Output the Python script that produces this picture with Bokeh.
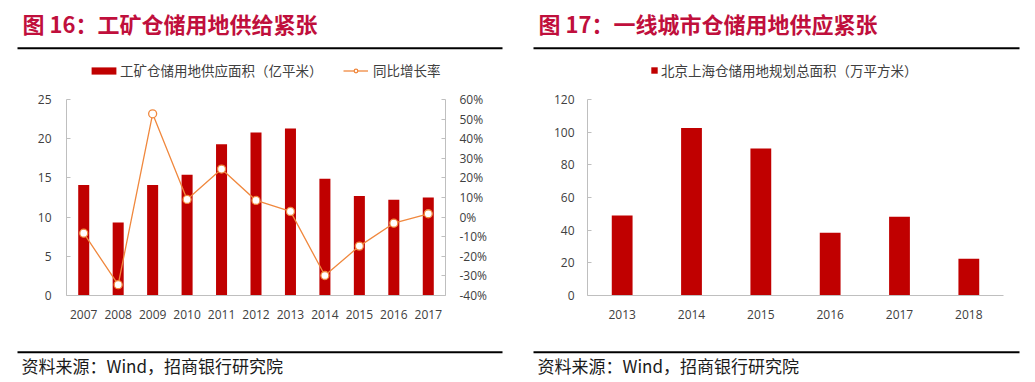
from bokeh.plotting import figure
from bokeh.models import (Range1d, FactorRange, LinearAxis, FixedTicker, PrintfTickFormatter,
                          Label, BoxAnnotation, Legend, LegendItem)
from bokeh.layouts import row, column
from bokeh.embed import file_html
from bokeh.resources import INLINE

# ---------------- data ----------------
years_a = ["2007", "2008", "2009", "2010", "2011", "2012", "2013", "2014", "2015", "2016", "2017"]
supply_area = [14.1, 9.3, 14.1, 15.4, 19.3, 20.8, 21.3, 14.9, 12.7, 12.2, 12.5]   # 亿平米
yoy_growth = [-8.2, -34.5, 52.7, 9.0, 24.5, 8.5, 2.9, -29.8, -14.8, -3.1, 1.7]    # %

years_b = ["2013", "2014", "2015", "2016", "2017", "2018"]
plan_area = [49, 102.6, 90, 38.4, 48.2, 22.5]   # 万平方米

title_a = "图 16：工矿仓储用地供给紧张"
title_b = "图 17：一线城市仓储用地供应紧张"
legend_bar_a = "工矿仓储用地供应面积（亿平米）"
legend_line_a = "同比增长率"
legend_bar_b = "北京上海仓储用地规划总面积（万平方米）"
source_text = "资料来源：Wind，招商银行研究院"

BAR = "#C00000"
LINE = "#F0883E"
TITLE_RED = "#C00F3C"
AXIS_GRAY = "#BFBFBF"
TXT = "#404040"
CJK = "Noto Sans CJK SC"
NUM = "Open Sans"

HEAD_H = 90
FOOT_H = 52


def blank(width, height):
    p = figure(width=width, height=height, x_range=Range1d(0, width), y_range=Range1d(0, height),
               min_border=0, output_backend="svg", toolbar_location=None, frame_align=False)
    p.axis.visible = False
    p.grid.visible = False
    p.outline_line_color = None
    return p


def rule(p, x0, x1, yc):
    p.add_layout(BoxAnnotation(left=x0, right=x1, bottom=yc - 1, top=yc + 1,
                               left_units="screen", right_units="screen",
                               bottom_units="screen", top_units="screen",
                               fill_color="black", fill_alpha=1, line_color=None))


def header(width, title, x_title, x0, x1):
    p = blank(width, HEAD_H)
    p.add_layout(Label(x=x_title, y=HEAD_H - 22.5, x_units="screen", y_units="screen", text=title,
                       text_font=CJK, text_font_size="22px", text_font_style="bold",
                       text_color=TITLE_RED, text_baseline="middle", text_align="left"))
    rule(p, x0, x1, HEAD_H - 47.7)
    return p


def footer(width, x_src, x0, x1):
    p = blank(width, FOOT_H)
    rule(p, x0, x1, FOOT_H - 26.7)
    p.add_layout(Label(x=x_src, y=FOOT_H - 40, x_units="screen", y_units="screen", text=source_text,
                       text_font=CJK, text_font_size="17px", text_color="#1a1a1a",
                       text_baseline="middle", text_align="left"))
    return p


def make_legend(items, vx, vy, gw, gh, standoff):
    return Legend(items=items, location=(vx, vy), orientation="horizontal",
                  glyph_width=gw, glyph_height=gh, label_standoff=standoff,
                  label_text_font=CJK, label_text_font_size="13.5px", label_text_color=TXT,
                  padding=0, margin=0, spacing=0, border_line_color=None,
                  background_fill_alpha=0, label_height=gh, inactive_fill_alpha=0)


def style_axis(ax, vertical=True):
    ax.axis_line_color = AXIS_GRAY
    ax.major_tick_line_color = AXIS_GRAY if vertical else None
    ax.major_tick_in = 4
    ax.major_tick_out = 0
    ax.minor_tick_line_color = None
    ax.major_label_text_font = NUM
    ax.major_label_text_font_size = "12px"
    ax.major_label_text_color = TXT


# ---------------- left panel ----------------
WA = 518
ha = header(WA, title_a, 22, 17, 502)
idx_a = list(range(len(years_a)))
# hidden legend proxies (same data, not drawn) so the legend can sit in the header area
leg_bar = ha.vbar(x=idx_a, top=supply_area, width=0.32, fill_color=BAR, line_color=None, visible=False)
leg_line = ha.line(x=idx_a, y=yoy_growth, line_color=LINE, line_width=1.3, visible=False)
leg_pt = ha.scatter(x=idx_a, y=yoy_growth, size=8, marker="circle", fill_color="white",
                    line_color=LINE, line_width=1.3, visible=False)
ha.add_layout(make_legend([LegendItem(label=legend_bar_a, renderers=[leg_bar])], 88, 10, 31, 9, 1))
ha.add_layout(make_legend([LegendItem(label=legend_line_a, renderers=[leg_line, leg_pt])], 343, 10, 25, 9, 5))

pa = figure(x_range=FactorRange(*years_a, range_padding=0), y_range=Range1d(0, 25),
            frame_width=379, frame_height=196, frame_align=False,
            min_border_left=66, min_border_right=WA - 66 - 379, min_border_top=9, min_border_bottom=30,
            output_backend="svg", toolbar_location=None)
pa.extra_y_ranges = {"pct": Range1d(-40, 60)}
pa.outline_line_color = None
pa.grid.visible = False

pa.vbar(x=years_a, top=supply_area, width=0.32, fill_color=BAR, line_color=None)
pa.line(x=years_a, y=yoy_growth, y_range_name="pct", line_color=LINE, line_width=1.3)
pa.scatter(x=years_a, y=yoy_growth, y_range_name="pct", size=8, marker="circle",
           fill_color="white", line_color=LINE, line_width=1.3)

pa.yaxis.ticker = FixedTicker(ticks=[0, 5, 10, 15, 20, 25])
style_axis(pa.yaxis[0])
pa.yaxis.major_label_standoff = 15
style_axis(pa.xaxis[0], vertical=False)
pa.xaxis.major_label_standoff = 14

right_ax = LinearAxis(y_range_name="pct", ticker=FixedTicker(ticks=list(range(-40, 61, 10))),
                      formatter=PrintfTickFormatter(format="%d%%"))
style_axis(right_ax)
right_ax.major_label_standoff = 14
pa.add_layout(right_ax, "right")

fa = footer(WA, 21, 17, 502)

# ---------------- right panel ----------------
WB = 509
hb = header(WB, title_b, 20, 15, 501)
idx_b = list(range(len(years_b)))
leg_bar_b = hb.vbar(x=idx_b, top=plan_area, width=0.3, fill_color=BAR, line_color=None, visible=False)
hb.add_layout(make_legend([LegendItem(label=legend_bar_b, renderers=[leg_bar_b])], 132, 10, 8, 8, 3))

pb = figure(x_range=FactorRange(*years_b, range_padding=0), y_range=Range1d(0, 120),
            frame_width=416, frame_height=196, frame_align=False,
            min_border_left=69, min_border_right=WB - 69 - 416, min_border_top=9, min_border_bottom=30,
            output_backend="svg", toolbar_location=None)
pb.outline_line_color = None
pb.grid.visible = False

pb.vbar(x=years_b, top=plan_area, width=0.3, fill_color=BAR, line_color=None)
pb.yaxis.ticker = FixedTicker(ticks=list(range(0, 121, 20)))
style_axis(pb.yaxis[0])
pb.yaxis.major_label_standoff = 13
style_axis(pb.xaxis[0], vertical=False)
pb.xaxis.major_label_standoff = 14

fb = footer(WB, 19, 15, 501)

layout = row(column(ha, pa, fa, spacing=0), column(hb, pb, fb, spacing=0), spacing=0)
open("out.html", "w").write(file_html(layout, INLINE))
